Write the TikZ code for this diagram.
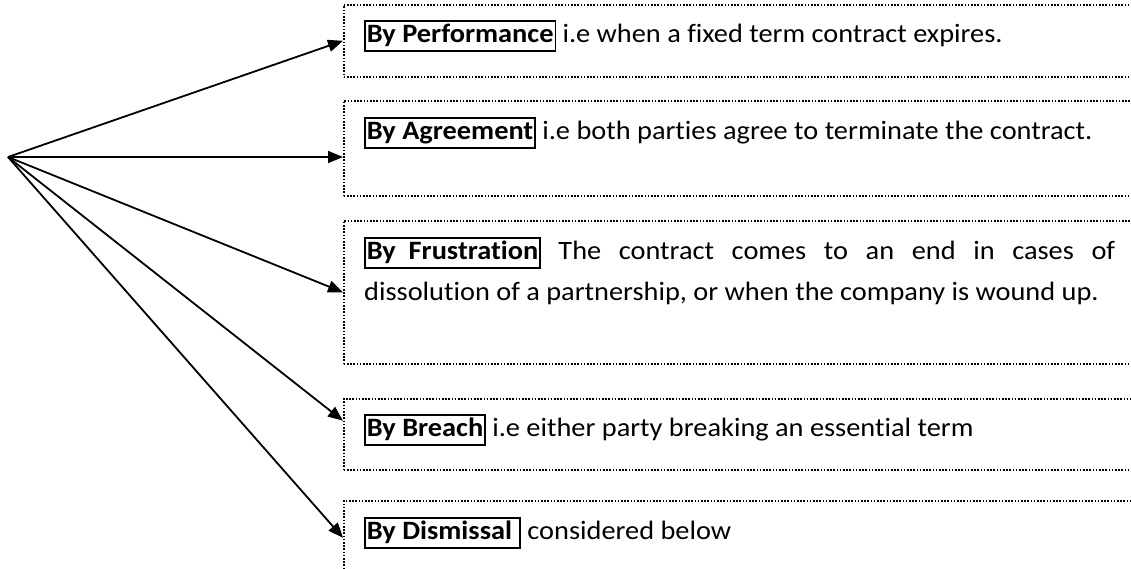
\documentclass[tikz,border=0pt]{standalone}
\usepackage{fontspec}
\setmainfont{Carlito}[FakeStretch=1.07, Ligatures=NoCommon]
\usetikzlibrary{arrows.meta}

% framed bold lead-in of each item
\newcommand{\leadin}[1]{{\setlength\fboxsep{1pt}\setlength\fboxrule{1.6pt}%
  \fbox{\rule[-7pt]{0pt}{26pt}\bfseries #1}}}

\begin{document}
\begin{tikzpicture}[x=1pt,y=1pt,
  dotbox/.style={draw, line width=1.6pt, dash pattern=on 1.6pt off 1.6pt,
    rectangle, minimum width=800pt, anchor=north west, inner sep=0pt},
  itemtext/.style={anchor=base west, inner sep=0pt,
    font=\fontsize{26.5pt}{31pt}\selectfont},
  link/.style={line width=1.8pt, -{Triangle[length=15pt,width=12pt]}}]

\useasboundingbox (0,0) rectangle (1131,-568);
\clip (0,0) rectangle (1131,-568);

% fan origin
\coordinate (o) at (8,-157);

% dotted item boxes (running off the right edge)
\node[dotbox, minimum height=72pt]  (b1) at (343,-4)   {};
\node[dotbox, minimum height=95pt]  (b2) at (343,-100) {};
\node[dotbox, minimum height=143pt] (b3) at (343,-220) {};
\node[dotbox, minimum height=71pt]  (b4) at (343,-398) {};
\node[dotbox, minimum height=74pt]  (b5) at (343,-500) {};

% item texts
\node[itemtext] (t1) at (364,-42)
  {\leadin{By Performance} i.e when a fixed term contract expires.};
\node[itemtext] (t2) at (364,-139)
  {\leadin{By Agreement} i.e both parties agree to terminate the contract.};
\node[itemtext] (t3a) at (364,-259)
  {\makebox[751pt][s]{\leadin{By\ \ Frustration} The contract comes to an end in cases of}};
\node[itemtext] (t3b) at (364,-300)
  {dissolution of a partnership, or when the company is wound up.};
\node[itemtext] (t4) at (364,-436)
  {\leadin{By Breach} i.e either party breaking an essential term};
\node[itemtext] (t5) at (364,-539)
  {\leadin{By Dismissal\ } considered below};

% connectors
\draw[link] (o) -- (b1.west);
\draw[link] (o) -- (b2.west |- o);
\draw[link] (o) -- (b3.west);
\draw[link] (o) -- ([yshift=13.5pt]b4.west);
\draw[link] (o) -- (b5.west);
\end{tikzpicture}
\end{document}
